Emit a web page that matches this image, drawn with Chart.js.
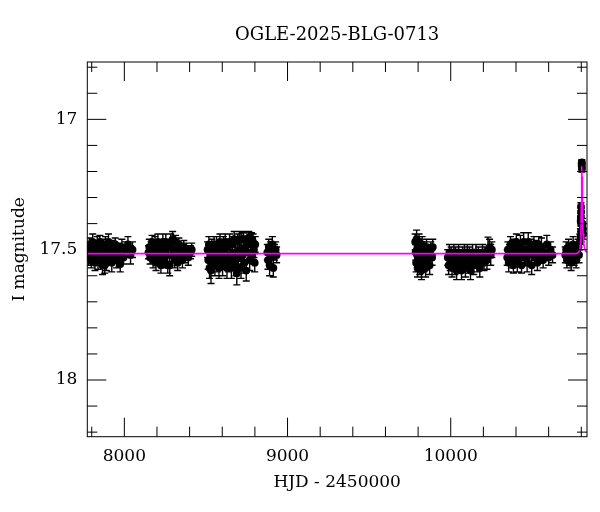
<!DOCTYPE html>
<html>
<head>
<meta charset="utf-8">
<script src="https://cdn.jsdelivr.net/npm/chart.js@4.4.1/dist/chart.umd.min.js"></script>
<style>
body { margin: 0; background: #fff; }
canvas { display: block; }
</style>
</head>
<body>
<canvas id="lc" width="600" height="512"></canvas>
<script>
// each point: [HJD - 2450000, I mag, error]
var season1 = [[7778,17.50,0.025],[7781,17.53,0.03],[7785,17.48,0.025],[7789,17.52,0.03],[7793,17.49,0.02],[7797,17.54,0.03],[7801,17.51,0.025],[7806,17.47,0.03],[7810,17.53,0.025],[7815,17.50,0.03],[7820,17.55,0.03],[7824,17.49,0.025],[7829,17.52,0.02],[7834,17.48,0.03],[7839,17.54,0.035],[7844,17.50,0.025],[7850,17.47,0.025],[7855,17.53,0.03],[7861,17.51,0.025],[7866,17.56,0.035],[7872,17.49,0.03],[7878,17.52,0.025],[7880,17.56,0.03],[7884,17.48,0.03],[7890,17.55,0.03],[7896,17.50,0.025],[7903,17.47,0.03],[7909,17.53,0.025],[7916,17.51,0.03],[7923,17.55,0.035],[7930,17.49,0.025],[7937,17.52,0.03],[7944,17.48,0.025],[7952,17.54,0.03],[7960,17.50,0.025],[7968,17.53,0.035],[7975,17.555,0.03],[7976,17.51,0.03],[7985,17.49,0.03],[7995,17.53,0.025],[8008,17.50,0.03],[8022,17.48,0.03],[8038,17.52,0.035],[8050,17.50,0.03]]
var season2 = [[8148,17.51,0.025],[8153,17.49,0.03],[8158,17.53,0.025],[8164,17.50,0.03],[8170,17.47,0.025],[8176,17.54,0.03],[8182,17.51,0.025],[8188,17.48,0.03],[8194,17.55,0.03],[8200,17.50,0.025],[8206,17.47,0.03],[8212,17.53,0.03],[8218,17.49,0.025],[8224,17.56,0.03],[8230,17.51,0.025],[8236,17.47,0.03],[8242,17.54,0.03],[8248,17.50,0.025],[8254,17.47,0.03],[8260,17.52,0.03],[8266,17.56,0.03],[8272,17.49,0.025],[8278,17.56,0.04],[8284,17.47,0.03],[8290,17.52,0.025],[8296,17.46,0.03],[8302,17.50,0.03],[8308,17.54,0.03],[8314,17.47,0.025],[8320,17.51,0.03],[8327,17.55,0.03],[8334,17.48,0.025],[8341,17.52,0.03],[8348,17.50,0.025],[8356,17.54,0.03],[8364,17.49,0.025],[8372,17.52,0.03],[8381,17.50,0.025],[8392,17.53,0.03],[8405,17.51,0.025],[8413,17.50,0.025]]
var season3 = [[8510,17.50,0.03],[8514,17.54,0.035],[8518,17.48,0.03],[8522,17.57,0.04],[8527,17.52,0.03],[8531,17.58,0.05],[8536,17.49,0.03],[8540,17.55,0.035],[8545,17.51,0.03],[8550,17.48,0.03],[8555,17.56,0.04],[8560,17.53,0.03],[8565,17.48,0.03],[8570,17.55,0.035],[8575,17.50,0.03],[8580,17.57,0.04],[8586,17.47,0.03],[8591,17.53,0.035],[8596,17.50,0.03],[8602,17.56,0.04],[8607,17.48,0.03],[8612,17.54,0.035],[8618,17.47,0.03],[8623,17.52,0.03],[8629,17.57,0.04],[8634,17.49,0.03],[8640,17.55,0.035],[8645,17.47,0.03],[8651,17.52,0.03],[8656,17.57,0.04],[8662,17.48,0.03],[8667,17.54,0.035],[8673,17.46,0.03],[8678,17.51,0.03],[8684,17.56,0.04],[8689,17.59,0.045],[8694,17.47,0.03],[8699,17.53,0.035],[8705,17.46,0.03],[8710,17.50,0.03],[8715,17.57,0.04],[8720,17.46,0.03],[8726,17.52,0.035],[8731,17.46,0.025],[8736,17.55,0.04],[8742,17.49,0.03],[8747,17.58,0.04],[8752,17.46,0.03],[8758,17.51,0.035],[8763,17.455,0.025],[8768,17.54,0.04],[8774,17.48,0.03],[8779,17.46,0.025],[8784,17.52,0.035],[8789,17.47,0.03],[8794,17.50,0.03],[8799,17.55,0.035],[8802,17.48,0.03]]
var season4 = [[8876,17.51,0.03],[8880,17.54,0.035],[8885,17.49,0.03],[8890,17.56,0.04],[8895,17.50,0.03],[8901,17.53,0.035],[8907,17.48,0.03],[8913,17.57,0.035],[8920,17.51,0.03],[8927,17.50,0.03],[8933,17.52,0.03]]
var season5 = [[9782,17.47,0.03],[9785,17.51,0.03],[9788,17.55,0.035],[9791,17.46,0.035],[9794,17.52,0.03],[9797,17.57,0.035],[9800,17.49,0.03],[9803,17.54,0.03],[9806,17.47,0.03],[9810,17.56,0.035],[9813,17.50,0.03],[9817,17.53,0.03],[9821,17.58,0.035],[9825,17.48,0.03],[9830,17.52,0.03],[9835,17.55,0.035],[9840,17.50,0.03],[9846,17.57,0.035],[9852,17.49,0.03],[9858,17.54,0.03],[9864,17.51,0.03],[9871,17.56,0.035],[9878,17.50,0.03],[9886,17.53,0.03],[9890,17.49,0.03]]
var season6 = [[9982,17.53,0.03],[9987,17.56,0.035],[9992,17.51,0.03],[9997,17.55,0.03],[10003,17.52,0.03],[10008,17.57,0.035],[10014,17.53,0.03],[10019,17.51,0.03],[10025,17.56,0.035],[10030,17.52,0.03],[10036,17.58,0.035],[10042,17.54,0.03],[10048,17.51,0.03],[10054,17.56,0.03],[10060,17.53,0.03],[10066,17.58,0.035],[10072,17.52,0.03],[10078,17.55,0.03],[10084,17.51,0.03],[10090,17.57,0.035],[10096,17.53,0.03],[10102,17.51,0.03],[10108,17.56,0.03],[10115,17.52,0.03],[10121,17.58,0.035],[10128,17.54,0.03],[10134,17.51,0.03],[10141,17.56,0.035],[10148,17.53,0.03],[10155,17.51,0.03],[10162,17.55,0.035],[10170,17.52,0.03],[10178,17.57,0.035],[10186,17.53,0.03],[10195,17.51,0.03],[10204,17.55,0.03],[10213,17.52,0.03],[10222,17.54,0.035],[10228,17.50,0.048],[10238,17.49,0.03],[10245,17.52,0.04],[10252,17.50,0.03]]
var season7 = [[10346,17.53,0.03],[10350,17.50,0.03],[10355,17.55,0.035],[10360,17.51,0.03],[10366,17.48,0.03],[10372,17.54,0.03],[10378,17.50,0.035],[10384,17.56,0.03],[10390,17.49,0.03],[10396,17.52,0.03],[10402,17.47,0.03],[10408,17.55,0.035],[10414,17.50,0.03],[10420,17.53,0.03],[10427,17.48,0.035],[10434,17.56,0.03],[10440,17.51,0.03],[10447,17.47,0.035],[10454,17.53,0.03],[10461,17.50,0.03],[10468,17.55,0.035],[10475,17.47,0.035],[10482,17.52,0.03],[10489,17.49,0.03],[10496,17.56,0.035],[10503,17.51,0.03],[10510,17.48,0.03],[10517,17.53,0.03],[10524,17.50,0.035],[10531,17.55,0.03],[10539,17.48,0.03],[10547,17.52,0.03],[10556,17.49,0.035],[10566,17.54,0.03],[10577,17.51,0.03],[10589,17.48,0.035],[10600,17.53,0.03],[10612,17.50,0.03],[10624,17.52,0.03]]
var season8 = [[10702,17.52,0.03],[10707,17.50,0.03],[10712,17.54,0.03],[10717,17.51,0.025],[10722,17.49,0.03],[10727,17.53,0.03],[10732,17.50,0.025],[10738,17.55,0.03],[10744,17.51,0.03],[10750,17.48,0.03],[10756,17.53,0.03],[10762,17.50,0.025],[10768,17.54,0.03],[10774,17.51,0.03],[10780,17.49,0.03],[10786,17.52,0.03],[10791,17.47,0.03],[10795,17.45,0.03]]
var peak = [[10802,17.17,0.012],[10803,17.18,0.012],[10804,17.19,0.012],[10803.5,17.165,0.01],[10798,17.335,0.015],[10799,17.355,0.015],[10797,17.375,0.015],[10796,17.39,0.015],[10807,17.40,0.02],[10809,17.42,0.02],[10811,17.44,0.02],[10800,17.45,0.02],[10798.5,17.43,0.02]]

// model curve
var modelT = [7773, 10770, 10785, 10792, 10796, 10798, 10800, 10801.5, 10803, 10804.5, 10806, 10808, 10811, 10815, 10820, 10826, 10835]
var modelMag = [17.515, 17.515, 17.51, 17.495, 17.47, 17.42, 17.32, 17.23, 17.18, 17.22, 17.30, 17.38, 17.44, 17.475, 17.495, 17.505, 17.51]

var xMajor = [8000, 9000, 10000]
var xMinor = [7800, 8000, 8200, 8400, 8600, 8800, 9000, 9200, 9400, 9600, 9800, 10000, 10200, 10400, 10600, 10800]
var yMajor = [17, 17.5, 18]
var yMinor = [16.8, 16.9, 17, 17.1, 17.2, 17.3, 17.4, 17.5, 17.6, 17.7, 17.8, 17.9, 18, 18.1, 18.2]

var allPoints = [].concat(season1, season2, season3, season4, season5, season6, season7, season8, peak)
var serif = 'DejaVu Serif'

var errorBarPlugin = {
    id: 'errorBars',
    beforeDatasetsDraw: function (chart) {
        var ctx = chart.ctx, xs = chart.scales.x, ys = chart.scales.y, a = chart.chartArea
        ctx.save()
        ctx.beginPath()
        ctx.rect(a.left, a.top, a.right - a.left, a.bottom - a.top)
        ctx.clip()
        ctx.strokeStyle = '#000'
        ctx.lineWidth = 1.4
        ctx.beginPath()
        allPoints.forEach(function (p) {
            var x = xs.getPixelForValue(p[0])
            var y1 = ys.getPixelForValue(p[1] - p[2])
            var y2 = ys.getPixelForValue(p[1] + p[2])
            ctx.moveTo(x, y1); ctx.lineTo(x, y2)
            ctx.moveTo(x - 3.5, y1); ctx.lineTo(x + 3.5, y1)
            ctx.moveTo(x - 3.5, y2); ctx.lineTo(x + 3.5, y2)
        })
        ctx.stroke()
        ctx.restore()
    }
}

// box with inward ticks on all four sides
var framePlugin = {
    id: 'frame',
    afterDatasetsDraw: function (chart) {
        var ctx = chart.ctx, xs = chart.scales.x, ys = chart.scales.y, a = chart.chartArea
        ctx.save()
        ctx.strokeStyle = '#000'
        ctx.lineWidth = 1
        ctx.strokeRect(a.left, a.top, a.right - a.left, a.bottom - a.top)
        ctx.beginPath()
        xMinor.forEach(function (v) {
            var len = xMajor.indexOf(v) >= 0 ? 19 : 10
            var px = xs.getPixelForValue(v)
            ctx.moveTo(px, a.bottom); ctx.lineTo(px, a.bottom - len)
            ctx.moveTo(px, a.top); ctx.lineTo(px, a.top + len)
        })
        yMinor.forEach(function (v) {
            var len = yMajor.indexOf(v) >= 0 ? 19 : 10
            var py = ys.getPixelForValue(v)
            ctx.moveTo(a.left, py); ctx.lineTo(a.left + len, py)
            ctx.moveTo(a.right, py); ctx.lineTo(a.right - len, py)
        })
        ctx.stroke()
        ctx.restore()
    }
}

var modelData = modelT.map(function (t, i) { return { x: t, y: modelMag[i] } })
var pointData = allPoints.map(function (p) { return { x: p[0], y: p[1] } })

var config = {
    type: 'scatter',
    data: {
        datasets: [
            {
                label: 'model',
                data: modelData,
                showLine: true,
                borderColor: '#ff00ff',
                borderWidth: 1.6,
                pointRadius: 0,
                fill: false
            },
            {
                label: 'OGLE',
                data: pointData,
                pointRadius: 3.9,
                pointBorderWidth: 0,
                backgroundColor: '#000',
                borderColor: '#000'
            }
        ]
    },
    options: {
        responsive: false,
        animation: false,
        layout: { padding: { left: 0, right: 13, top: 0, bottom: 0 } },
        plugins: {
            legend: { display: false },
            tooltip: { enabled: false },
            title: {
                display: true,
                text: 'OGLE-2025-BLG-0713',
                fullSize: false,
                color: '#000',
                font: { family: serif, size: 18, weight: 'normal' },
                padding: { top: 24.2, bottom: 16.2 }
            }
        },
        scales: {
            x: {
                type: 'linear',
                min: 7773,
                max: 10835,
                grid: { display: false, drawTicks: false },
                border: { display: false },
                afterBuildTicks: function (s) { s.ticks = xMajor.map(function (v) { return { value: v } }) },
                afterFit: function (s) { s.height = 75.3 },
                ticks: {
                    color: '#000',
                    font: { family: serif, size: 17 },
                    padding: 10,
                    maxRotation: 0,
                    autoSkip: false,
                    callback: function (v) { return String(v) }
                },
                title: {
                    display: true,
                    text: 'HJD - 2450000',
                    color: '#000',
                    font: { family: serif, size: 17 },
                    padding: { top: 0, bottom: 18.8 }
                }
            },
            y: {
                type: 'linear',
                reverse: true,
                min: 16.78,
                max: 18.2175,
                grid: { display: false, drawTicks: false },
                border: { display: false },
                afterBuildTicks: function (s) { s.ticks = yMajor.map(function (v) { return { value: v } }) },
                afterFit: function (s) { s.width = 87.3 },
                ticks: {
                    color: '#000',
                    font: { family: serif, size: 17 },
                    padding: 10,
                    autoSkip: false,
                    callback: function (v) { return String(v) }
                },
                title: {
                    display: true,
                    text: 'I magnitude',
                    color: '#000',
                    font: { family: serif, size: 17 },
                    padding: { top: 9.8, bottom: 0 }
                }
            }
        }
    },
    plugins: [errorBarPlugin, framePlugin]
}

var CHART_1 = new Chart(document.getElementById('lc'), config)
</script>
</body>
</html>
